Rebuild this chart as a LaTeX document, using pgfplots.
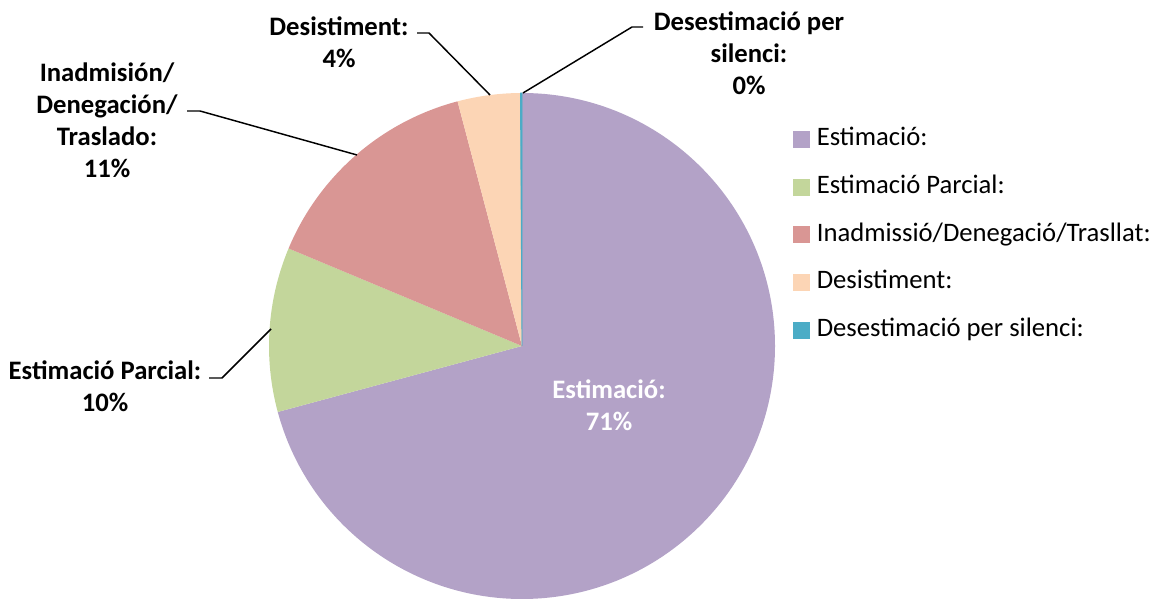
\documentclass[border=0pt]{standalone}
\usepackage{fontspec}
\setmainfont{Carlito}
\usepackage{pgfplots}
\pgfplotsset{compat=1.18}
\definecolor{cEst}{HTML}{B3A2C7}
\definecolor{cPar}{HTML}{C3D69B}
\definecolor{cIna}{HTML}{D99694}
\definecolor{cDes}{HTML}{FCD5B5}
\definecolor{cSil}{HTML}{4BACC6}
\tikzset{lbl/.style={align=center, font=\fontsize{20}{24}\selectfont\bfseries, inner sep=0pt}}
% shares of the circle (percent), clockwise from 12 o'clock
\def\vEst{70.8}\def\vPar{10.5}\def\vIna{14.6}\def\vDes{4.0}\def\vSil{0.1}
\pgfmathsetmacro\aA{90}
\pgfmathsetmacro\aB{\aA-3.6*\vEst}
\pgfmathsetmacro\aC{\aB-3.6*\vPar}
\pgfmathsetmacro\aD{\aC-3.6*\vIna}
\pgfmathsetmacro\aE{\aD-3.6*\vDes}
\pgfmathsetmacro\aF{\aE-3.6*\vSil}
\newcommand\slice[3]{\fill[#3] (axis cs:522,252) -- ++(#1:189.75pt) arc[start angle=#1, end angle=#2, radius=189.75pt] -- cycle;}
\begin{document}
\begin{tikzpicture}
\begin{axis}[
  x=0.75pt, y=0.75pt,
  xmin=0, xmax=1157, ymin=0, ymax=598,
  enlargelimits=false, hide axis, clip=false,
  legend style={draw=none, fill=none, at={(axis cs:793,472.5)}, anchor=north west,
    inner sep=0pt, row sep=15.8pt, column sep=5.25pt,
    font=\fontsize{20}{24}\selectfont,
    nodes={inner sep=0pt, text height=15pt, text depth=5pt}},
  legend cell align=left,
  legend image code/.code={\fill[#1] (0pt,-6pt) rectangle (12pt,6pt);},
]
\addplot[draw=none, forget plot] coordinates {(0,0) (1157,598)};
\slice{\aA}{\aB}{cEst}
\slice{\aB}{\aC}{cPar}
\slice{\aC}{\aD}{cIna}
\slice{\aD}{\aE}{cDes}
\fill[cSil, draw=cSil, line width=0.6pt] (axis cs:522,252) -- ++(\aE:189.75pt) arc[start angle=\aE, end angle=\aF, radius=189.75pt] -- cycle;
% leader lines
\addplot[black, line width=1.1pt, forget plot] coordinates {(417,565) (429,565) (490,503)};
\addplot[black, line width=1.1pt, forget plot] coordinates {(523,505) (632,571) (643,571)};
\addplot[black, line width=1.1pt, forget plot] coordinates {(187,487) (200,487) (357,443)};
\addplot[black, line width=1.1pt, forget plot] coordinates {(209,220) (222,220) (271,269)};
% data labels
\node[lbl] at (axis cs:339,556) {Desistiment:\\4\%};
\node[lbl] at (axis cs:749,545) {Desestimació per\\silenci:\\0\%};
\node[lbl] at (axis cs:107,478) {Inadmisión/\\Denegación/\\Traslado:\\11\%};
\node[lbl] at (axis cs:105,212) {Estimació Parcial:\\10\%};
\node[lbl, text=white] at (axis cs:609,193) {Estimació:\\71\%};
% legend
\addlegendimage{cEst}\addlegendentry{Estimació:}
\addlegendimage{cPar}\addlegendentry{Estimació Parcial:}
\addlegendimage{cIna}\addlegendentry{Inadmissió/Denegació/Trasllat:}
\addlegendimage{cDes}\addlegendentry{Desistiment:}
\addlegendimage{cSil}\addlegendentry{Desestimació per silenci:}
\end{axis}
\end{tikzpicture}
\end{document}
